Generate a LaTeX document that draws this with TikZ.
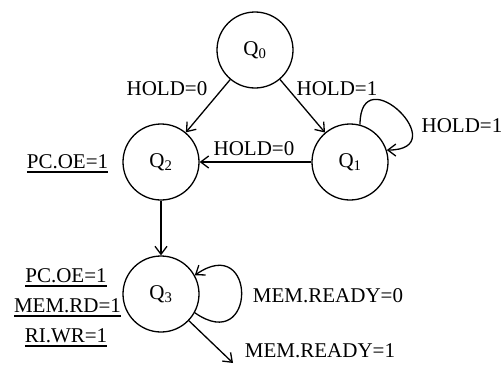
\documentclass[tikz,border=0pt]{standalone}
\usepackage{fontspec}
\setmainfont{Liberation Serif}
\usetikzlibrary{arrows.meta, positioning}

% underlined output signal
\newcommand{\ulbox}[1]{\setbox0\hbox{#1}\rlap{\rule[-4.5bp]{\wd0}{1.4bp}}\box0}

\tikzset{
	state/.style={draw, circle, minimum size=76bp, inner sep=0pt, line width=1.3bp},
	trans/.style={-{Straight Barb[length=8bp, width=12bp]}, line width=1.3bp},
	lbl/.style={anchor=base, inner sep=0pt},
}

\begin{document}
\begin{tikzpicture}[x=1bp, y=1bp, on grid, font=\fontsize{21bp}{25bp}\selectfont]
	\useasboundingbox (0,0) rectangle (503,365);
	% states
	\node [state] (q0) at (255,315) {Q\textsubscript{0}};
	\node [state, below right = 112bp and 95bp of q0] (q1) {Q\textsubscript{1}};
	\node [state, left = 189bp of q1] (q2) {Q\textsubscript{2}};
	\node [state, below = 132bp of q2] (q3) {Q\textsubscript{3}};
	\coordinate (exit) at (233,2);
	
	% conditions
	\node [lbl] (h02) at (167,270) {HOLD=0};
	\node [lbl] (h01) at (337,270) {HOLD=1};
	\node [lbl] (h12) at (254,210) {HOLD=0};
	\node [lbl] (h11) at (462,233) {HOLD=1};
	\node [lbl] (m33) at (328,63) {MEM.READY=0};
	\node [lbl] (m3x) at (320,8) {MEM.READY=1};
	
	% outputs
	\node [lbl] (o2) at (67.5,197) {\ulbox{PC.OE=1}};
	\node [lbl] (o3a) at (66,83) {\ulbox{PC.OE=1}};
	\node [lbl] (o3b) at (67.5,53) {\ulbox{MEM.RD=1}};
	\node [lbl] (o3c) at (66,23) {\ulbox{RI.WR=1}};
	
	% transitions
	\draw [trans] (q0) -- (q2);
	\draw [trans] (q0) -- (q1);
	\draw [trans] (q1) -- (q2);
	\draw [trans] (q2) -- (q3);
	\draw [trans] (q1.75) to [out=90, in=0, looseness=4.8] (q1.18);
	\draw [trans] (q3.-29) to [out=-35, in=35, looseness=5.2] (q3.29);
	\draw [trans] (q3) -- (exit);
\end{tikzpicture}
\end{document}
